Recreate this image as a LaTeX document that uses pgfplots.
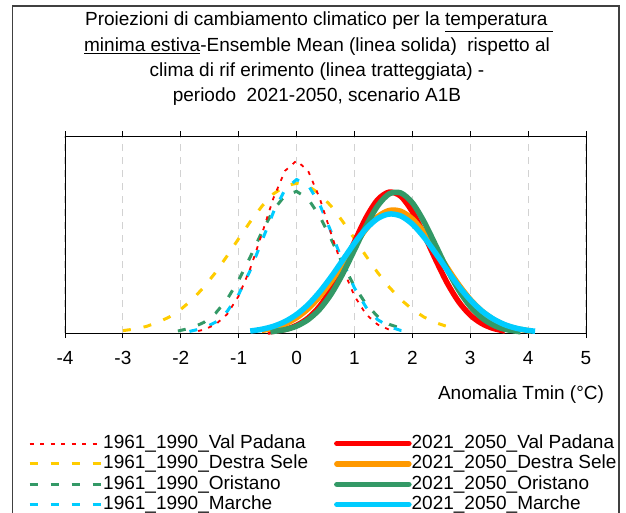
\documentclass[border=0pt]{standalone}
\usepackage{pgfplots}
\pgfplotsset{compat=1.18}
\usepackage{fontspec}
\setmainfont{Liberation Sans}

\definecolor{cRed}{RGB}{255,0,0}
\definecolor{cGold}{RGB}{255,204,0}
\definecolor{cGreen}{RGB}{51,153,102}
\definecolor{cCyan}{RGB}{0,204,255}
\definecolor{cOrange}{RGB}{255,153,0}

\begin{document}
\begin{tikzpicture}[x=1pt,y=1pt]
% outer chart frame
\draw[line width=1.3pt, black!75] (12.5,-513) -- (12.5,-6) -- (619,-6) -- (619,-513);

% title
\begin{scope}[every node/.style={font=\fontsize{19}{25}\selectfont, inner sep=0pt}]
\node at (319,-22) {Proiezioni di cambiamento climatico per la \underline{temperatura\ }};
\node at (317,-47) {\underline{minima estiva}-Ensemble Mean (linea solida)\ \ rispetto al};
\node at (317,-72) {clima di rif erimento (linea tratteggiata) -};
\node at (317,-97) {periodo\ \ 2021-2050, scenario A1B};
\end{scope}

\begin{axis}[
  at={(65pt,-333pt)}, anchor=south west,
  width=521pt, height=197pt, scale only axis,
  xmin=-4, xmax=5, ymin=0, ymax=1,
  xtick={-4,-3,-2,-1,0,1,2,3,4,5},
  xticklabels={-4,-3,-2,-1,0,1,2,3,4,5},
  ytick=\empty,
  tick align=outside, major tick length=5pt,
  xtick style={black, line width=0.8pt},
  xticklabel style={font=\fontsize{19}{19}\selectfont, yshift=-10pt},
  axis line style={black, line width=0.9pt},
  xmajorgrids,
  grid style={gray!35, line width=1.2pt, dash pattern=on 7pt off 6pt},
  clip=false,
  legend columns=2,
  legend cell align=left,
  legend style={at={(-0.0768,-0.505)}, anchor=north west, draw=none, fill=none,
    font=\fontsize{19}{19}\selectfont,
    nodes={inner sep=0pt, text height=14pt, text depth=4pt},
    row sep=2.3pt,
    /tikz/every even column/.append style={column sep=26pt}},
  legend image code/.code={\draw[#1] (0pt,0pt) -- (72pt,0pt);},
]
% reference climate 1961-1990 (dashed / dotted)
\addplot[cGold, line width=3pt, dash pattern=on 8pt off 13pt, forget plot] coordinates {
(-3.0,0.012) (-2.8,0.020) (-2.6,0.033) (-2.4,0.053) (-2.2,0.081) (-2.0,0.120)
(-1.8,0.170) (-1.6,0.233) (-1.4,0.307) (-1.2,0.391) (-1.0,0.479) (-0.8,0.565)
(-0.6,0.643) (-0.4,0.706) (-0.2,0.746) (0.0,0.760) (0.2,0.746) (0.4,0.706)
(0.6,0.643) (0.8,0.565) (1.0,0.479) (1.2,0.391) (1.4,0.307) (1.6,0.233)
(1.8,0.170) (2.0,0.120) (2.2,0.081) (2.4,0.053) (2.6,0.033) (2.75,0.022)};
\addplot[cGreen, line width=3pt, dash pattern=on 8pt off 13pt, forget plot] coordinates {
(-2.05,0.010) (-1.8,0.027) (-1.6,0.054) (-1.4,0.100) (-1.2,0.171) (-1.0,0.268)
(-0.8,0.386) (-0.6,0.512) (-0.4,0.624) (-0.2,0.698) (0.0,0.719) (0.2,0.681)
(0.4,0.593) (0.6,0.475) (0.8,0.349) (1.0,0.236) (1.2,0.147) (1.4,0.084)
(1.6,0.044) (1.9,0.014)};
\addplot[cCyan, line width=3pt, dash pattern=on 8pt off 13pt, forget plot] coordinates {
(-1.85,0.008) (-1.6,0.025) (-1.4,0.055) (-1.2,0.109) (-1.0,0.196) (-0.8,0.318)
(-0.6,0.466) (-0.4,0.613) (-0.2,0.728) (0.0,0.779) (0.2,0.751) (0.4,0.653)
(0.6,0.511) (0.8,0.361) (1.0,0.229) (1.2,0.131) (1.4,0.068) (1.6,0.032)
(1.8,0.013) (1.95,0.006)};
\addplot[cRed, line width=1.8pt, dash pattern=on 4pt off 6.5pt, forget plot] coordinates {
(-1.7,0.010) (-1.6,0.017) (-1.4,0.043) (-1.2,0.095) (-1.0,0.188) (-0.8,0.327)
(-0.6,0.502) (-0.4,0.684) (-0.2,0.823) (0.0,0.875) (0.2,0.823) (0.4,0.684)
(0.6,0.502) (0.8,0.327) (1.0,0.188) (1.2,0.095) (1.4,0.043) (1.6,0.017)
(1.65,0.013)};
% projections 2021-2050 (ensemble mean, solid)
\addplot[cRed, line width=5.5pt, smooth, forget plot] coordinates {
(-0.5,0.005) (-0.2,0.018) (0.0,0.039) (0.2,0.076) (0.4,0.136) (0.6,0.224)
(0.8,0.336) (1.0,0.463) (1.2,0.585) (1.4,0.676) (1.6,0.715) (1.8,0.694)
(2.0,0.616) (2.2,0.501) (2.4,0.374) (2.6,0.255) (2.8,0.159) (3.0,0.091)
(3.2,0.048) (3.4,0.023) (3.6,0.010)};
\addplot[cOrange, line width=5.5pt, smooth, forget plot] coordinates {
(-0.6,0.013) (-0.4,0.025) (-0.2,0.045) (0.0,0.077) (0.2,0.123) (0.4,0.185)
(0.6,0.263) (0.8,0.351) (1.0,0.443) (1.2,0.527) (1.4,0.590) (1.6,0.622)
(1.8,0.618) (2.0,0.579) (2.2,0.511) (2.4,0.425) (2.6,0.333) (2.8,0.246)
(3.0,0.171) (3.2,0.112) (3.4,0.069) (3.6,0.040) (3.8,0.022) (4.05,0.010)};
\addplot[cGreen, line width=5.5pt, smooth, forget plot] coordinates {
(-0.45,0.006) (-0.2,0.017) (0.0,0.035) (0.2,0.068) (0.4,0.121) (0.6,0.199)
(0.8,0.302) (1.0,0.422) (1.2,0.543) (1.4,0.645) (1.6,0.706) (1.8,0.711)
(2.0,0.661) (2.2,0.566) (2.4,0.447) (2.6,0.325) (2.8,0.218) (3.0,0.135)
(3.2,0.077) (3.4,0.040) (3.6,0.019) (3.87,0.006)};
\addplot[cCyan, line width=5.5pt, smooth, forget plot] coordinates {
(-0.8,0.010) (-0.6,0.019) (-0.4,0.034) (-0.2,0.058) (0.0,0.094) (0.2,0.144)
(0.4,0.209) (0.6,0.286) (0.8,0.371) (1.0,0.456) (1.2,0.529) (1.4,0.581)
(1.6,0.604) (1.8,0.594) (2.0,0.553) (2.2,0.487) (2.4,0.406) (2.6,0.320)
(2.8,0.238) (3.0,0.168) (3.2,0.112) (3.4,0.071) (3.6,0.042) (3.8,0.024)
(4.0,0.013) (4.12,0.009)};

% legend, filled row by row
\addlegendimage{cRed, line width=1.8pt, dash pattern=on 4pt off 6.5pt}
\addlegendentry{1961\_1990\_Val Padana}
\addlegendimage{cRed, line width=5.5pt, line cap=round}
\addlegendentry{2021\_2050\_Val Padana}
\addlegendimage{cGold, line width=3pt, dash pattern=on 8pt off 13pt}
\addlegendentry{1961\_1990\_Destra Sele}
\addlegendimage{cOrange, line width=5.5pt, line cap=round}
\addlegendentry{2021\_2050\_Destra Sele}
\addlegendimage{cGreen, line width=3pt, dash pattern=on 8pt off 13pt}
\addlegendentry{1961\_1990\_Oristano}
\addlegendimage{cGreen, line width=5.5pt, line cap=round}
\addlegendentry{2021\_2050\_Oristano}
\addlegendimage{cCyan, line width=3pt, dash pattern=on 8pt off 13pt}
\addlegendentry{1961\_1990\_Marche}
\addlegendimage{cCyan, line width=5.5pt, line cap=round}
\addlegendentry{2021\_2050\_Marche}
\end{axis}

% x-axis title
\node[font=\fontsize{19}{19}\selectfont, inner sep=0pt] at (521,-395) {Anomalia Tmin (°C)};
% page extent
\pgfresetboundingbox
\path (0,0) rectangle (626,-513);
\end{tikzpicture}
\end{document}
